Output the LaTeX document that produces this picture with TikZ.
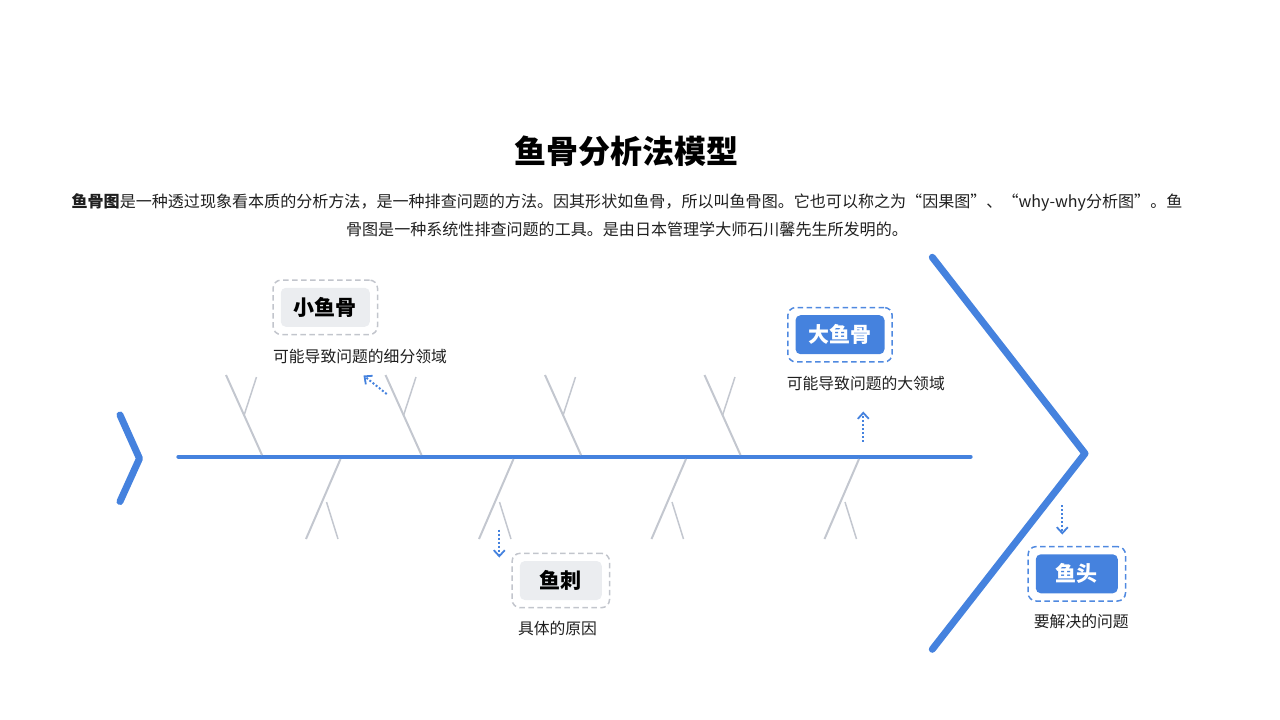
\documentclass[tikz,border=0pt]{standalone}
\usepackage{fontspec}
\setmainfont{Noto Sans CJK SC}
\usetikzlibrary{arrows.meta, fit}

\definecolor{fishblue}{HTML}{4582DE}
\definecolor{bonegray}{HTML}{C3C7CF}
\definecolor{tagfill}{HTML}{EBEDF0}
\definecolor{dashgray}{HTML}{C2C5CC}
\definecolor{dashblue}{HTML}{4F89E0}
\definecolor{inkblack}{HTML}{1F1F1F}

\tikzset{
  fishtag/.style={rounded corners=5pt, minimum width=82pt, minimum height=39pt, inner xsep=13pt, font=\fontsize{21}{24}\selectfont\bfseries},
  graytag/.style={fishtag, fill=tagfill, text=black},
  bluetag/.style={fishtag, fill=fishblue, text=white},
  tagframe/.style={draw, dash pattern=on 5.5pt off 3.5pt, rounded corners=8pt, inner sep=7.5pt, line width=1.5pt},
  captiontext/.style={font=\fontsize{15.8}{18}\selectfont, text=inkblack},
  hint/.style={fishblue, line width=2pt, dash pattern=on 2pt off 2pt, -{Straight Barb[length=6pt,width=11pt,line width=1.8pt]}},
  bone/.style={bonegray, line width=2pt},
  twig/.style={bonegray, line width=1.5pt},
  fishline/.style={fishblue, line width=7pt, line cap=round, line join=round}
}

\begin{document}
\begin{tikzpicture}[x=1pt, y=-1pt]
\path[use as bounding box] (0,0) rectangle (1280,720);

% title and intro
\node[font=\fontsize{32}{36}\selectfont\bfseries] (title) at (626,151) {鱼骨分析法模型};
\node[font=\fontsize{16.05}{28}\selectfont, text=inkblack, align=center] (intro) at (627,215)
  {\textbf{鱼骨图}是一种透过现象看本质的分析方法，是一种排查问题的方法。因其形状如鱼骨，所以叫鱼骨图。它也可以称之为“因果图”、“why-why分析图”。鱼\\
   骨图是一种系统性排查问题的工具。是由日本管理学大师石川馨先生所发明的。};

% tail, spine, head
\draw[fishline] (120,415) -- (139.5,458.5) -- (120,501.5);
\draw[fishblue, line width=4.3pt, line cap=round] (178.5,456.7) -- (970.5,456.7);
\draw[fishline] (932.3,257.3) -- (1085,453.5) -- (932.3,649.3);

% bones
\foreach \x in {262,421.5,581,740.5}{
  \draw[bone] (\x,455) -- (\x-36,375);
  \draw[twig] (\x-18,415.5) -- (\x-5.5,377);
}
\foreach \x in {340.5,513.5,686,859}{
  \draw[bone] (\x,459) -- (\x-34.5,539);
  \draw[twig] (\x-14,502) -- (\x-2.5,539);
}

% labels
\node[graytag] (xiao) at (325.3,307.3) {小鱼骨};
\node[tagframe, draw=dashgray, fit=(xiao)] (xiaoframe) {};
\node[captiontext] (xiaotext) at (360,356) {可能导致问题的细分领域};

\node[bluetag] (da) at (840,334.7) {大鱼骨};
\node[tagframe, draw=dashblue, fit=(da)] (daframe) {};
\node[captiontext] (datext) at (865.8,383.3) {可能导致问题的大领域};

\node[graytag] (ci) at (560.8,580.5) {鱼刺};
\node[tagframe, draw=dashgray, fit=(ci)] (ciframe) {};
\node[captiontext] (citext) at (557.5,628.3) {具体的原因};

\node[bluetag] (tou) at (1076.8,573.8) {鱼头};
\node[tagframe, draw=dashblue, fit=(tou)] (touframe) {};
\node[captiontext] (toutext) at (1081.3,621.7) {要解决的问题};

% pointers
\coordinate (xiaofrom) at (386.7,394);
\coordinate (xiaoto) at (363.5,375.5);
\coordinate (dafrom) at (863.3,441.5);
\coordinate (dato) at (863.3,411.5);
\coordinate (cifrom) at (499.3,529.5);
\coordinate (cito) at (499.3,557.5);
\coordinate (toufrom) at (1062.3,505);
\coordinate (touto) at (1062.3,534.5);
\draw[hint] (xiaofrom) -- (xiaoto);
\draw[hint] (dafrom) -- (dato);
\draw[hint] (cifrom) -- (cito);
\draw[hint] (toufrom) -- (touto);
\end{tikzpicture}
\end{document}
